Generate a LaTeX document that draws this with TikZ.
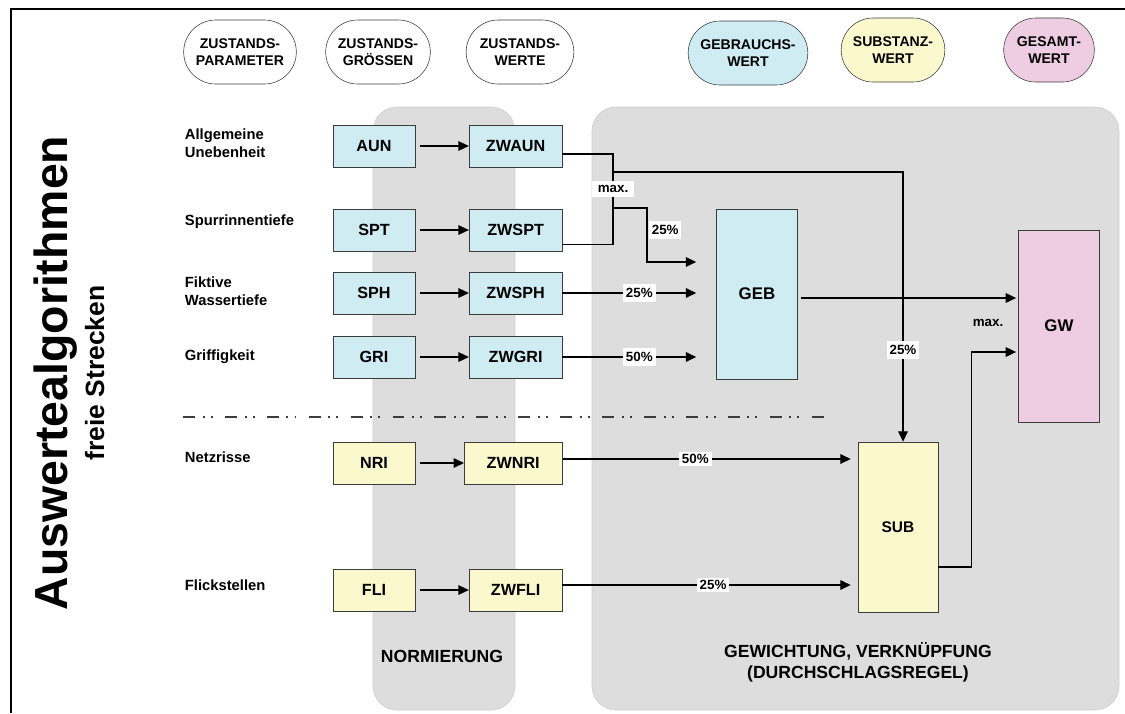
\documentclass[tikz,border=0pt]{standalone}
\usepackage{fontspec}
\setmainfont{Liberation Sans}
\usetikzlibrary{shapes.misc,arrows.meta}

\definecolor{gebblau}{RGB}{206,236,242}
\definecolor{subgelb}{RGB}{251,248,205}
\definecolor{gesrosa}{RGB}{238,204,226}
\definecolor{panelgrau}{RGB}{221,221,221}
\definecolor{randgrau}{RGB}{205,205,205}
\definecolor{boxrand}{RGB}{60,60,60}

\begin{document}
\begin{tikzpicture}[
            x=0.025cm,y=-0.025cm,
            >={Triangle[length=0.26cm,width=0.24cm]},
            node distance=3.54cm,
            kopf/.style={rounded rectangle,draw=boxrand,thin,minimum height=1.6cm,align=center,
                font=\bfseries\fontsize{10}{11.8}\selectfont},
            wert/.style={draw=boxrand,thin,minimum width=2.05cm,minimum height=1.05cm,
                font=\bfseries\fontsize{11.5}{13}\selectfont},
            zwert/.style={wert,minimum width=2.325cm},
            block/.style={draw=boxrand,thin,minimum width=2.025cm,minimum height=4.25cm,
                font=\bfseries\fontsize{12}{14}\selectfont},
            zeile/.style={anchor=west,align=left,font=\bfseries\fontsize{10.5}{13}\selectfont},
            pct/.style={fill=white,inner xsep=2pt,inner ysep=3pt,font=\bfseries\fontsize{9.5}{11}\selectfont},
            fuss/.style={align=center,font=\bfseries\fontsize{12.5}{15}\selectfont},
            verb/.style={->,line width=0.9pt}
        ]
        \useasboundingbox (0,0) rectangle (1125,713);
        % Rahmen und graue Felder
        \draw[line width=1.3pt] (11,713) -- (11,9) -- (1125,9);
        \filldraw[fill=panelgrau,draw=randgrau,rounded corners=0.6cm] (373,107) rectangle (515,710);
        \filldraw[fill=panelgrau,draw=randgrau,rounded corners=0.6cm] (592,107) rectangle (1119,710);

        % Titel
        \node[rotate=90,anchor=base,font=\bfseries\fontsize{33}{38}\selectfont] (titel) at (67,373) {Auswertealgorithmen};
        \node[rotate=90,anchor=base,font=\bfseries\fontsize{18.8}{22}\selectfont] (untertitel) at (104,373) {freie Strecken};

        % Kopfzeile
        \node[kopf,minimum width=3.05cm] (kparam) at (240,52) {ZUSTANDS-\\PARAMETER};
        \node[kopf,minimum width=2.85cm] (kgroesse) at (378,52) {ZUSTANDS-\\GRÖSSEN};
        \node[kopf,minimum width=2.925cm] (kwert) at (520,52) {ZUSTANDS-\\WERTE};
        \node[kopf,minimum width=3.225cm,fill=gebblau] (kgeb) at (748,53) {GEBRAUCHS-\\WERT};
        \node[kopf,minimum width=2.825cm,fill=subgelb] (ksub) at (893,50) {SUBSTANZ-\\WERT};
        \node[kopf,minimum width=2.5cm,fill=gesrosa] (kges) at (1049,50) {GESAMT-\\WERT};

        % Zustandsparameter
        \node[zeile] (l1) at (180,143) {Allgemeine\\Unebenheit};
        \node[zeile] (l2) at (180,222) {Spurrinnentiefe};
        \node[zeile] (l3) at (180,291) {Fiktive\\Wassertiefe};
        \node[zeile] (l4) at (180,357) {Griffigkeit};
        \node[zeile] (l5) at (180,457) {Netzrisse};
        \node[zeile] (l6) at (180,585) {Flickstellen};

        \node[wert,fill=gebblau] (aun) at (374,146) {AUN};
        \node[zwert,fill=gebblau] (zwaun) [right of=aun] {ZWAUN};
        \node[wert,fill=gebblau] (spt) at (374,230) {SPT};
        \node[zwert,fill=gebblau] (zwspt) [right of=spt] {ZWSPT};
        \node[wert,fill=gebblau] (sph) at (374,293) {SPH};
        \node[zwert,fill=gebblau] (zwsph) [right of=sph] {ZWSPH};
        \node[wert,fill=gebblau] (gri) at (374,357) {GRI};
        \node[zwert,fill=gebblau] (zwgri) [right of=gri] {ZWGRI};
        \node[wert,fill=subgelb] (nri) at (374,463) {NRI};
        \node[zwert,fill=subgelb,minimum width=2.45cm,xshift=-0.06cm] (zwnri) [right of=nri] {ZWNRI};
        \node[wert,fill=subgelb] (fli) at (374,590) {FLI};
        \node[zwert,fill=subgelb] (zwfli) [right of=fli] {ZWFLI};

        \node[block,fill=gebblau] (geb) at (757,294) {GEB};
        \node[block,fill=gesrosa,minimum height=4.8cm] (gw) at (1059,326) {GW};
        \node[block,fill=subgelb,minimum width=2cm,font=\bfseries\fontsize{11}{13}\selectfont] (sub) at (898,527) {SUB};

        \path[verb,shorten <=3pt] (aun) edge (zwaun)
        (spt) edge (zwspt)
        (sph) edge (zwsph)
        (gri) edge (zwgri)
        (nri) edge (zwnri)
        (fli) edge (zwfli);

        % max. aus ZWAUN und ZWSPT
        \coordinate (vmax) at (613,189);
        \coordinate (jsub) at (613,172);
        \coordinate (jgeb) at (613,208);
        \draw[line width=0.9pt] ([yshift=-0.2cm]zwaun.east) -| (vmax) |- ([yshift=-0.36cm]zwspt.east);
        \draw[verb] (jsub) -| node[pct,pos=0.83] {25\%} ([xshift=0.125cm]sub.north);
        \draw[verb,shorten >=0.5cm] (jgeb) -- ++(34,0) |- node[pct,anchor=west,pos=0.2,xshift=1pt] {25\%} ([yshift=0.8cm]geb.west);
        \node[pct,inner xsep=4pt] (max1) at (vmax) {max.};

        \draw[verb,shorten >=0.5cm] (zwsph.east) -- node[pct] {25\%} (zwsph.east -| geb.west);
        \draw[verb,shorten >=0.5cm] (zwgri.east) -- node[pct] {50\%} (zwgri.east -| geb.west);
        \draw[verb,shorten >=0.175cm] ([yshift=0.1cm]zwnri.east) -- node[pct,pos=0.45,inner ysep=1.5pt] {50\%} ([yshift=0.1cm]zwnri.east -| sub.west);
        \draw[verb,shorten >=0.175cm] ([yshift=0.125cm]zwfli.east) -- node[pct,pos=0.51,inner ysep=1.5pt] {25\%} ([yshift=0.125cm]zwfli.east -| sub.west);

        % Gesamtwert
        \draw[verb,shorten <=2pt,shorten >=1.5pt] ([yshift=-0.1cm]geb.east) -- ([yshift=-0.1cm]geb.east -| gw.west);
        \draw[verb,shorten >=1.5pt] ([yshift=-1cm]sub.east) -- ++(33,0) |- ([yshift=-0.65cm]gw.west);
        \node[font=\bfseries\fontsize{9.5}{11}\selectfont] (max2) at (988,323) {max.};

        \draw[line width=1pt,boxrand,dash pattern=on 8.5pt off 5.5pt on 1.4pt off 4.3pt on 1.4pt off 8.7pt] (183,417) -- (830,417);

        \node[fuss] (normierung) at (442,656) {NORMIERUNG};
        \node[fuss] (gewichtung) at (858,662) {GEWICHTUNG, VERKNÜPFUNG\\(DURCHSCHLAGSREGEL)};
\end{tikzpicture}
\end{document}
